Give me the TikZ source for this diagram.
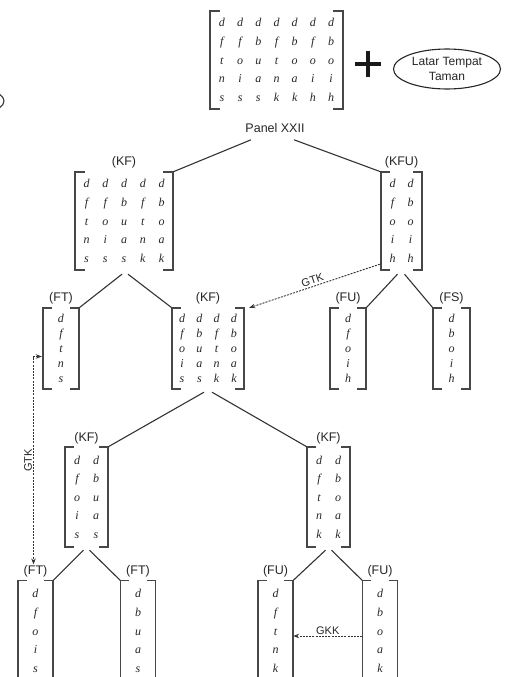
\documentclass[tikz,border=0pt]{standalone}
\usepackage{fontspec}
\setmainfont{Liberation Sans}
\newfontfamily\matf{Liberation Serif}
\usetikzlibrary{matrix,calc,arrows.meta,shapes.geometric}

\tikzset{
 lab/.style={font=\fontsize{12.5}{12.5}\selectfont, text=black!85, inner sep=1pt},
 mat/.style={matrix of nodes, row sep=0pt, column sep=0pt,
   nodes={font=\matf\itshape\fontsize{12}{12}\selectfont, text=black!85,
          text height=8pt, text depth=0pt, inner sep=0pt, anchor=center}},
 brk/.style={line width=1.5pt, black!72},
 tree/.style={line width=1.1pt, black!80},
 gtk/.style={line width=0.9pt, black!80, dash pattern=on 2pt off 1.2pt},
 tip/.style={-{Stealth[length=6pt,width=4.5pt]}},
 tips/.style={{Stealth[length=6pt,width=4.5pt]}-{Stealth[length=6pt,width=4.5pt]}},
}
\newcommand\brk[2]{%
 \draw[brk] ($(#1.north west)+(#2,0)$) -- (#1.north west) -- (#1.south west) -- ++(#2,0);
 \draw[brk] ($(#1.north east)+(-#2,0)$) -- (#1.north east) -- (#1.south east) -- ++(-#2,0);}

\begin{document}
\begin{tikzpicture}[x=1pt,y=-1pt]
\useasboundingbox (0,0) rectangle (504,677);

% partial shape at left edge
\draw[line width=1.1pt, black!80] (-50,101) ellipse [x radius=54, y radius=17];

% top matrix
\matrix[mat, nodes={minimum width=18.2pt, minimum height=18.5pt}, inner xsep=2.8pt, inner ysep=2.75pt] (top) at (276.5,60) {
d & d & d & d & d & d & d \\
f & f & b & f & b & f & b \\
t & o & u & t & o & o & o \\
n & i & a & n & a & i & i \\
s & s & s & k & k & h & h \\
};
\brk{top}{10}
\node[lab] (panel) at (275,128) {Panel XXII};

% plus and setting
\draw[line width=4pt, black!90] (355,64) -- (381,64) (368,51) -- (368,77);
\node[draw, ellipse, line width=1.1pt, black!85, minimum width=107pt, minimum height=40pt, inner sep=0pt,
      align=center, font=\fontsize{12}{15}\selectfont] (latar) at (447,69) {Latar Tempat\\Taman};

% level 1
\matrix[mat, nodes={minimum width=18.75pt, minimum height=18.75pt}, inner xsep=2.1pt, inner ysep=2.1pt] (kf1) at (124,221) {
d & d & d & d & d \\
f & f & b & f & b \\
t & o & u & t & o \\
n & i & a & n & a \\
s & s & s & k & k \\
};
\brk{kf1}{10}
\node[lab] (lkf1) at ($(kf1.north)+(0,-10)$) {(KF)};

\matrix[mat, nodes={minimum width=18pt, minimum height=18.75pt}, inner xsep=2.5pt, inner ysep=2.1pt] (kfu) at (401.5,221) {
d & d \\
f & b \\
o & o \\
i & i \\
h & h \\
};
\brk{kfu}{9}
\node[lab] (lkfu) at ($(kfu.north)+(0,-10)$) {(KFU)};

% level 2
\matrix[mat, nodes={minimum width=18pt, minimum height=15pt}, inner xsep=9pt, inner ysep=3pt] (ft2) at (61,348.5) {
d \\ f \\ t \\ n \\ s \\
};
\brk{ft2}{9}
\node[lab] (lft2) at ($(ft2.north)+(0,-10)$) {(FT)};

\matrix[mat, nodes={minimum width=17.3pt, minimum height=15pt}, inner xsep=1.4pt, inner ysep=3pt] (kf2) at (208,348.5) {
d & d & d & d \\
f & b & f & b \\
o & u & t & o \\
i & a & n & a \\
s & s & k & k \\
};
\brk{kf2}{9}
\node[lab] (lkf2) at ($(kf2.north)+(0,-10)$) {(KF)};

\matrix[mat, nodes={minimum width=18pt, minimum height=15pt}, inner xsep=9pt, inner ysep=3pt] (fu2) at (348,348.5) {
d \\ f \\ o \\ i \\ h \\
};
\brk{fu2}{9}
\node[lab] (lfu2) at ($(fu2.north)+(0,-10)$) {(FU)};

\matrix[mat, nodes={minimum width=18pt, minimum height=15pt}, inner xsep=9.5pt, inner ysep=3pt] (fs2) at (451.5,348.5) {
d \\ b \\ o \\ i \\ h \\
};
\brk{fs2}{9}
\node[lab] (lfs2) at ($(fs2.north)+(0,-10)$) {(FS)};

% level 3
\matrix[mat, nodes={minimum width=19pt, minimum height=18.5pt}, inner xsep=2.5pt, inner ysep=3.75pt] (kf3a) at (86.5,497) {
d & d \\
f & b \\
o & u \\
i & a \\
s & s \\
};
\brk{kf3a}{9}
\node[lab] (lkf3a) at ($(kf3a.north)+(0,-9)$) {(KF)};

\matrix[mat, nodes={minimum width=19pt, minimum height=18.5pt}, inner xsep=2.5pt, inner ysep=3.75pt] (kf3b) at (328.5,497) {
d & d \\
f & b \\
t & o \\
n & a \\
k & k \\
};
\brk{kf3b}{9}
\node[lab] (lkf3b) at ($(kf3b.north)+(0,-9)$) {(KF)};

% level 4
\matrix[mat, nodes={minimum width=17pt, minimum height=18.75pt}, inner xsep=9pt, inner ysep=3.5pt] (ft4a) at (35.5,631) {
d \\ f \\ o \\ i \\ s \\
};
\brk{ft4a}{9}
\node[lab] (lft4a) at ($(ft4a.north)+(0,-9)$) {(FT)};

\matrix[mat, nodes={minimum width=17pt, minimum height=18.75pt}, inner xsep=9pt, inner ysep=3.5pt] (ft4b) at (138,631) {
d \\ b \\ u \\ a \\ s \\
};
\brk{ft4b}{9}
\node[lab] (lft4b) at ($(ft4b.north)+(0,-9)$) {(FT)};

\matrix[mat, nodes={minimum width=17pt, minimum height=18.75pt}, inner xsep=9pt, inner ysep=3.5pt] (fu4a) at (275.5,631) {
d \\ f \\ t \\ n \\ k \\
};
\brk{fu4a}{9}
\node[lab] (lfu4a) at ($(fu4a.north)+(0,-9)$) {(FU)};

\matrix[mat, nodes={minimum width=17pt, minimum height=18.75pt}, inner xsep=9pt, inner ysep=3.5pt] (fu4b) at (380,631) {
d \\ b \\ o \\ a \\ k \\
};
\brk{fu4b}{9}
\node[lab] (lfu4b) at ($(fu4b.north)+(0,-9)$) {(FU)};

% tree connectors
\draw[tree] ($(panel.south)+(-24,6)$) -- (kf1.north east);
\draw[tree] ($(panel.south)+(19,6)$) -- (kfu.north west);
\draw[tree] ($(kf1.south)+(-2,4)$) -- (ft2.north east);
\draw[tree] ($(kf1.south)+(4,4)$) -- (kf2.north west);
\draw[tree] ($(kfu.south)+(-4,4)$) -- (fu2.north east);
\draw[tree] ($(kfu.south)+(3,4)$) -- (fs2.north west);
\draw[tree] ($(kf2.south)+(-4,3)$) -- (kf3a.north east);
\draw[tree] ($(kf2.south)+(4,3)$) -- (kf3b.north west);
\draw[tree] ($(kf3a.south)+(-3,3)$) -- (ft4a.north east);
\draw[tree] ($(kf3a.south)+(3,3)$) -- (ft4b.north west);
\draw[tree] ($(kf3b.south)+(-3,3)$) -- (fu4a.north east);
\draw[tree] ($(kf3b.south)+(3,3)$) -- (fu4b.north west);

% GTK / GKK
\draw[gtk, tip] ($(kfu.south west)+(-1,-6)$) -- ($(kf2.north east)+(5,0)$)
  node[lab, midway, sloped, above, inner sep=2pt, font=\fontsize{11}{11}\selectfont] (gtk1) {GTK};
\draw[gtk, tips] ($(ft2.west)+(-1,8)$) -| ($(lft4a.north)+(-2,0)$)
  node[lab, pos=0.75, rotate=90, anchor=south, font=\fontsize{11}{11}\selectfont] (gtk2) {GTK};
\draw[gtk, tip] ($(fu4b.west)+(0,5)$) -- ($(fu4a.east)+(0,5)$)
  node[lab, midway, above, font=\fontsize{11}{11}\selectfont] (gkk) {GKK};
\end{tikzpicture}
\end{document}
